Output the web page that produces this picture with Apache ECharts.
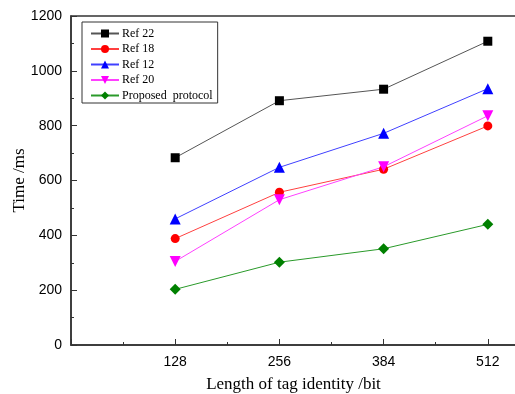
<!DOCTYPE html>
<html>
<head>
<meta charset="utf-8">
<script src="https://cdn.jsdelivr.net/npm/echarts@6/dist/echarts.min.js"></script>
<style>
  html, body { margin: 0; padding: 0; background: #fff; }
  #chart { width: 515px; height: 394px; }
</style>
</head>
<body>
<div id="chart"></div>
<script>
// tag identity length (bits)
const lengths = [128, 256, 384, 512];

// time in ms
const ref22 = [683, 891, 933, 1108];
const ref18 = [388, 557, 641, 799];
const ref12 = [460, 648, 772, 935];
const ref20 = [305, 530, 650, 836];
const proposed = [203, 302, 351, 440];

const yTicks = [0, 200, 400, 600, 800, 1000, 1200];

const chart = echarts.init(document.getElementById('chart'));

const pairs = (vals) => vals.map((v, i) => [lengths[i], v]);

const serif = 'Liberation Serif';
const sans = 'Liberation Sans';

function mkSeries(name, data, color, lineColor, symbol, size, rotate) {
  return {
    name: name,
    type: 'line',
    data: pairs(data),
    symbol: symbol,
    symbolSize: size,
    symbolRotate: rotate || 0,
    itemStyle: { color: color },
    lineStyle: { color: lineColor, width: 1 },
    emphasis: { disabled: true },
    animation: false,
  };
}

const option = {
  animation: false,
  // plot runs off the right edge of the picture, like the original
  grid: {
    left: 71, top: 16, height: 329, width: 521,
    outerBoundsMode: 'none',
    show: true, borderColor: '#333', borderWidth: 1.5, backgroundColor: 'transparent',
  },
  legend: {
    orient: 'vertical',
    left: 82,
    top: 22,
    itemWidth: 28,
    itemHeight: 10,
    itemGap: 0.5,
    padding: [4, 5, 0, 8],
    borderColor: '#333',
    borderWidth: 1,
    textStyle: { fontFamily: serif, fontSize: 12, lineHeight: 15, color: '#000', padding: [0, 0, 0, -2] },
    data: ['Ref 22', 'Ref 18', 'Ref 12', 'Ref 20', 'Proposed  protocol'],
  },
  xAxis: {
    type: 'value',
    min: 0,
    max: 640,
    interval: 128,
    name: 'Length of tag identity /bit',
    nameLocation: 'middle',
    nameGap: 31,
    // shift the title left: the visible part of the plot is narrower than the grid
    nameTextStyle: { fontFamily: serif, fontSize: 17, color: '#000', padding: [0, 76, 0, 0] },
    axisLine: { lineStyle: { color: '#333', width: 1.5 } },
    axisTick: { inside: true, length: 6, lineStyle: { color: '#333', width: 1 } },
    minorTick: { show: true, splitNumber: 2, length: 3, lineStyle: { color: '#333' } },
    splitLine: { show: false },
    axisLabel: {
      fontFamily: sans, fontSize: 14, color: '#000', margin: 10,
      formatter: (v) => (lengths.indexOf(v) >= 0 ? String(v) : ''),
    },
  },
  yAxis: {
    type: 'value',
    min: 0,
    max: 1200,
    interval: 200,
    name: 'Time /ms',
    nameLocation: 'middle',
    nameGap: 43,
    nameMoveOverlap: false,
    nameTextStyle: { fontFamily: serif, fontSize: 17, color: '#000' },
    axisLine: { show: true, lineStyle: { color: '#333', width: 1.5 } },
    axisTick: { show: true, inside: true, length: 6, lineStyle: { color: '#333', width: 1 } },
    minorTick: { show: true, splitNumber: 2, length: 3, lineStyle: { color: '#333' } },
    splitLine: { show: false },
    axisLabel: {
      fontFamily: sans, fontSize: 14, color: '#000', margin: 9,
      formatter: (v) => (yTicks.indexOf(v) >= 0 ? String(v) : ''),
    },
  },
  series: [
    mkSeries('Ref 22', ref22, '#000000', '#555555', 'rect', 9),
    mkSeries('Ref 18', ref18, '#ff0000', '#ff4040', 'circle', 9),
    mkSeries('Ref 12', ref12, '#0000ff', '#4040ff', 'triangle', 11),
    mkSeries('Ref 20', ref20, '#ff00ff', '#ff40ff', 'triangle', 11, 180),
    mkSeries('Proposed  protocol', proposed, '#008000', '#2a9a2a', 'diamond', 11),
  ],
};

chart.setOption(option);
</script>
</body>
</html>
